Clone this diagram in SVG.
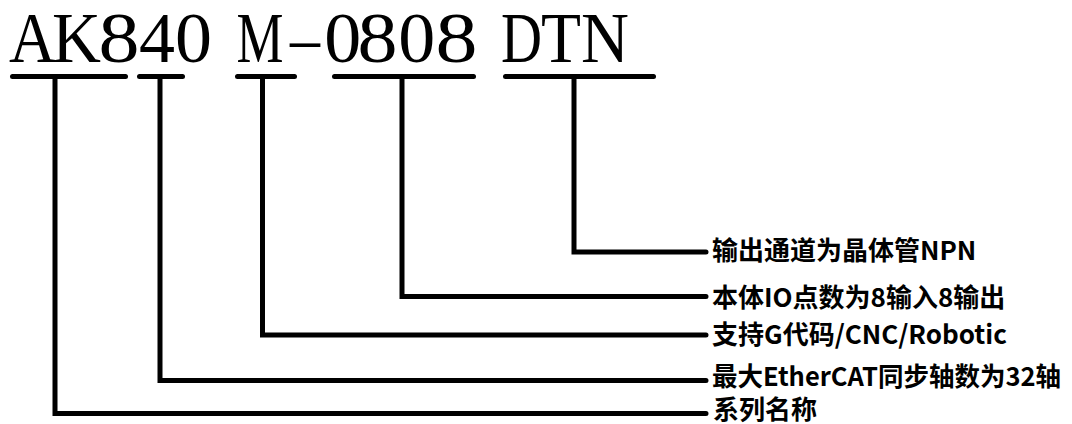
<svg xmlns="http://www.w3.org/2000/svg" width="1072" height="424" viewBox="0 0 1072 424">
<style>
.title{font-family:"Liberation Serif","Times New Roman",serif;font-size:71px;fill:#000}
.lbl{font-family:"Noto Sans CJK SC","Noto Sans",sans-serif;font-size:26px;font-weight:700;fill:#000}
.bar{stroke:#000;stroke-width:5;stroke-linecap:round;fill:none}
.conn{stroke:#000;stroke-width:5;stroke-linecap:round;stroke-linejoin:miter;fill:none}
</style>
<rect width="1072" height="424" fill="#fff"/>
<g id="title">
<text class="title" y="62"><tspan x="9" textLength="47" lengthAdjust="spacingAndGlyphs">A</tspan><tspan x="52" textLength="49" lengthAdjust="spacingAndGlyphs">K</tspan><tspan x="98.5" textLength="41" lengthAdjust="spacingAndGlyphs">8</tspan><tspan x="139" textLength="36" lengthAdjust="spacingAndGlyphs">4</tspan><tspan x="175" textLength="37" lengthAdjust="spacingAndGlyphs">0</tspan> <tspan x="236.4" textLength="47" lengthAdjust="spacingAndGlyphs">M</tspan><tspan x="290" textLength="30" lengthAdjust="spacingAndGlyphs">–</tspan><tspan x="324.2" textLength="37" lengthAdjust="spacingAndGlyphs">0</tspan><tspan x="357.6" textLength="40" lengthAdjust="spacingAndGlyphs">8</tspan><tspan x="398.2" textLength="37" lengthAdjust="spacingAndGlyphs">0</tspan><tspan x="435.4" textLength="42" lengthAdjust="spacingAndGlyphs">8</tspan> <tspan x="501" textLength="41" lengthAdjust="spacingAndGlyphs">D</tspan><tspan x="541" textLength="40" lengthAdjust="spacingAndGlyphs">T</tspan><tspan x="581" textLength="48" lengthAdjust="spacingAndGlyphs">N</tspan></text>
</g>
<g id="connectors">
<line class="bar" x1="12.5" y1="76.5" x2="125.5" y2="76.5"/>
<line class="bar" x1="139.5" y1="76.5" x2="182.5" y2="76.5"/>
<line class="bar" x1="237.5" y1="76.5" x2="294.5" y2="76.5"/>
<line class="bar" x1="334.5" y1="76.5" x2="473.5" y2="76.5"/>
<line class="bar" x1="505.5" y1="76.5" x2="653.5" y2="76.5"/>
<path class="conn" d="M55 77 V413.5 H706"/>
<path class="conn" d="M160 77 V380.5 H706"/>
<path class="conn" d="M262.5 77 V335 H706"/>
<path class="conn" d="M402 77 V296.5 H706"/>
<path class="conn" d="M574 77 V252 H706"/>
</g>
<g id="node-output"><text class="lbl" x="712" y="260">输出通道为晶体管NPN</text></g>
<g id="node-io"><text class="lbl" x="712" y="307">本体IO点数为8输入8输出</text></g>
<g id="node-gcode"><text class="lbl" x="712" y="344">支持G代码/CNC/Robotic</text></g>
<g id="node-axes"><text class="lbl" x="712" y="386" textLength="349" lengthAdjust="spacingAndGlyphs">最大EtherCAT同步轴数为32轴</text></g>
<g id="node-series"><text class="lbl" x="713" y="419">系列名称</text></g>
</svg>
